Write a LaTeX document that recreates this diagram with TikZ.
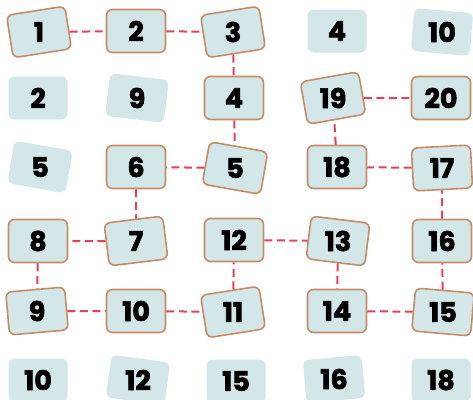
\documentclass[tikz,border=0pt]{standalone}
\usepackage{fontspec}
\setmainfont{Poppins}
\newfontfamily\cardfont{Poppins}[UprightFont=* Bold, FakeBold=2.5]
\definecolor{boxfill}{HTML}{D4E7E8}
\definecolor{boxedge}{HTML}{C78B66}
\definecolor{pathred}{HTML}{E2405C}
\begin{document}
\begin{tikzpicture}[x=1pt,y=-1pt,
  card/.style={rectangle, rounded corners=6pt, minimum width=59pt, minimum height=43pt,
    fill=boxfill, draw=boxedge, line width=1.6pt, inner sep=0pt},
  plain/.style={card, draw=none},
  num/.style={inner sep=0pt, font=\cardfont\fontsize{27}{27}\selectfont},
  link/.style={draw=pathred, line width=2pt, dash pattern=on 8pt off 4.5pt}]
\useasboundingbox (0,0) rectangle (473,399);
% row 1
\node[card,rotate=9] (n1) at (39,32) {};
\node[card] (n2) at (136,31) {};
\node[card,rotate=9] (n3) at (233,32) {};
\node[plain] (p4) at (337,31) {};
\node[plain,rotate=-5] (p10a) at (442,32) {};
% row 2
\node[plain] (p2) at (38,98) {};
\node[plain,rotate=-7] (p9) at (137,98) {};
\node[card] (n4) at (234,98) {};
\node[card,rotate=10] (n19) at (333,98) {};
\node[card] (n20) at (441,98) {};
% row 3
\node[plain,rotate=-10] (p5) at (40,167) {};
\node[card] (n6) at (136,167) {};
\node[card,rotate=-10] (n5) at (235,168) {};
\node[card] (n18) at (337,167) {};
\node[card,rotate=3] (n17) at (442,168) {};
% row 4
\node[card] (n8) at (38,241) {};
\node[card,rotate=7] (n7) at (136,241) {};
\node[card] (n12) at (234,240) {};
\node[card,rotate=-7] (n13) at (338,241) {};
\node[card] (n16) at (442,241) {};
% row 5
\node[card,rotate=5] (n9) at (37,311) {};
\node[card] (n10) at (136,311) {};
\node[card,rotate=9] (n11) at (233,312) {};
\node[card] (n14) at (337,311) {};
\node[card,rotate=-5] (n15) at (443,312) {};
% row 6
\node[plain] (p10b) at (38,380) {};
\node[plain,rotate=-8] (p12) at (138,380) {};
\node[plain] (p15) at (236,381) {};
\node[plain,rotate=5] (p16) at (334,379) {};
\node[plain] (p18) at (441,380) {};
% numbers (upright)
\node[num] (t1) at (n1) {1};
\node[num] (t2) at (n2) {2};
\node[num] (t3) at (n3) {3};
\node[num] (tp4) at (p4) {4};
\node[num] (tp10a) at (p10a) {10};
\node[num] (tp2) at (p2) {2};
\node[num] (tp9) at (p9) {9};
\node[num] (t4) at (n4) {4};
\node[num] (t19) at (n19) {19};
\node[num] (t20) at (n20) {20};
\node[num] (tp5) at (p5) {5};
\node[num] (t6) at (n6) {6};
\node[num] (t5) at (n5) {5};
\node[num] (t18) at (n18) {18};
\node[num] (t17) at (n17) {17};
\node[num] (t8) at (n8) {8};
\node[num] (t7) at (n7) {7};
\node[num] (t12) at (n12) {12};
\node[num] (t13) at (n13) {13};
\node[num] (t16) at (n16) {16};
\node[num] (t9) at (n9) {9};
\node[num] (t10) at (n10) {10};
\node[num] (t11) at (n11) {11};
\node[num] (t14) at (n14) {14};
\node[num] (t15) at (n15) {15};
\node[num] (tp10b) at (p10b) {10};
\node[num] (tp12) at (p12) {12};
\node[num] (tp15) at (p15) {15};
\node[num] (tp16) at (p16) {16};
\node[num] (tp18) at (p18) {18};
% path
\draw[link] (n1) -- (n2);
\draw[link] (n2) -- (n3);
\draw[link] (n3) -- (n4);
\draw[link] (n4) -- (n5);
\draw[link] (n5) -- (n6);
\draw[link] (n6) -- (n7);
\draw[link] (n7) -- (n8);
\draw[link] (n8) -- (n9);
\draw[link] (n9) -- (n10);
\draw[link] (n10) -- (n11);
\draw[link] (n11) -- (n12);
\draw[link] (n12) -- (n13);
\draw[link] (n13) -- (n14);
\draw[link] (n14) -- (n15);
\draw[link] (n15) -- (n16);
\draw[link] (n16) -- (n17);
\draw[link] (n17) -- (n18);
\draw[link] (n18) -- (n19);
\draw[link] (n19) -- (n20);
\end{tikzpicture}
\end{document}
